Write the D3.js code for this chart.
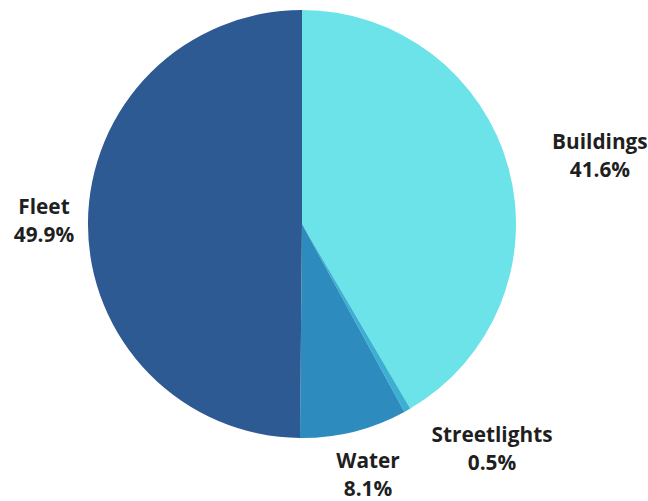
<!DOCTYPE html>
<html>
<head>
<meta charset="utf-8">
<script src="https://cdn.jsdelivr.net/npm/d3@7"></script>
<style>
  body { margin: 0; background: #fff; }
  .label { font-family: "Open Sans", sans-serif; font-weight: 700; font-size: 20.8px; fill: #1f1f1f; }
</style>
</head>
<body>
<div class="chart"></div>
<script>
// data
const categories = ['Buildings', 'Streetlights', 'Water', 'Fleet']
const shares = [41.6, 0.5, 8.1, 49.9]
const colors = ['#6be3e8', '#3bb0d2', '#2d8cbd', '#2e5a94']

const width = 648
const height = 501
const cx = 302
const cy = 224
const radius = 214
const labelRadius = 260

// nudges off the label arc so labels sit like the original
const labelNudge = {
    Buildings:    { dx: 47, dy: -7 },
    Streetlights: { dx: 62, dy: -8 },
    Water:        { dx: 3,  dy: -8 },
    Fleet:        { dx: 2,  dy: -9 }
}

const data = categories.map((c, i) => ({ name: c, value: shares[i], color: colors[i] }))

const svg = d3.select('.chart')
    .append('svg')
    .attr('width', width)
    .attr('height', height)
  .append('g')
    .attr('transform', `translate(${cx}, ${cy})`)

const pie = d3.pie()
    .sort(null)
    .value(d => d.value)

const arc = d3.arc()
    .innerRadius(0)
    .outerRadius(radius)

const labelArc = d3.arc()
    .innerRadius(labelRadius)
    .outerRadius(labelRadius)

const arcs = pie(data)

svg.selectAll('path')
    .data(arcs)
    .enter()
    .append('path')
        .attr('d', arc)
        .attr('fill', d => d.data.color)

const labels = svg.selectAll('text.label')
    .data(arcs)
    .enter()
    .append('text')
        .attr('class', 'label')
        .attr('text-anchor', 'middle')
        .attr('transform', d => {
            let [x, y] = labelArc.centroid(d)
            let n = labelNudge[d.data.name]
            return `translate(${x + n.dx}, ${y + n.dy})`
        })

labels.append('tspan')
    .attr('x', 0)
    .text(d => d.data.name)

labels.append('tspan')
    .attr('x', 0)
    .attr('dy', 28)
    .text(d => d.data.value + '%')
</script>
</body>
</html>
